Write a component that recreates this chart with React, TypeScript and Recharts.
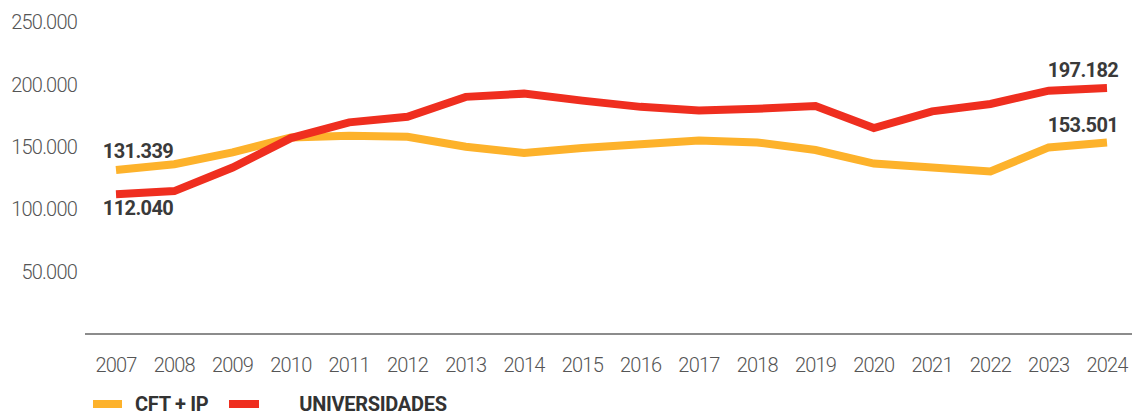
import React from "react";
import {
  LineChart,
  Line,
  XAxis,
  YAxis,
  Legend,
  LabelList,
} from "recharts";

const years = [
  "2007", "2008", "2009", "2010", "2011", "2012", "2013", "2014", "2015",
  "2016", "2017", "2018", "2019", "2020", "2021", "2022", "2023", "2024",
];

const cftIp = [
  131339, 136000, 145500, 157500, 158900, 158000, 150000, 145000, 149000,
  152000, 155000, 153500, 147400, 136600, 133400, 130200, 149500, 153501,
];

const universidades = [
  112040, 114500, 133400, 157000, 169600, 174000, 190000, 192600, 187000,
  182000, 179000, 180500, 182700, 165000, 178400, 184300, 195000, 197182,
];

const yTicks = [50000, 100000, 150000, 200000, 250000];

const YELLOW = "#FDB22B";
const RED = "#EF2E1F";
const FONT = "Roboto, 'Noto Sans', sans-serif";

const data = years.map((year, i) => ({
  year,
  cft: cftIp[i],
  uni: universidades[i],
}));

const fmt = (v: number) =>
  v.toString().replace(/\B(?=(\d{3})+(?!\d))/g, ".");

// only first and last points get a value label
const makeLabel =
  (firstDy: number, lastDy: number) =>
  (props: any) => {
    const { x, y, value, index } = props;
    if (index !== 0 && index !== years.length - 1) return null;
    const first = index === 0;
    return (
      <text
        x={first ? x + 22 : x - 24}
        y={y + (first ? firstDy : lastDy)}
        textAnchor="middle"
        dominantBaseline="central"
        fill="#3a3a3a"
        fontFamily={FONT}
        fontWeight={700}
        fontSize={20}
        letterSpacing={-0.6}
      >
        {fmt(value)}
      </text>
    );
  };

const LegendContent = () => (
  <div
    style={{
      display: "flex",
      alignItems: "center",
      fontFamily: FONT,
      fontWeight: 700,
      fontSize: 20,
      letterSpacing: -0.3,
      color: "#333",
      height: 30,
      paddingTop: 9,
      boxSizing: "border-box",
    }}
  >
    <span style={{ marginLeft: 93, width: 29, height: 8, background: YELLOW }} />
    <span style={{ marginLeft: 13 }}>CFT + IP</span>
    <span style={{ marginLeft: 21, width: 30, height: 8, background: RED }} />
    <span style={{ marginLeft: 40 }}>UNIVERSIDADES</span>
  </div>
);

export default function App() {
  return (
    <div style={{ position: "absolute", left: 0, top: 0 }}>
      <LineChart
        width={1132}
        height={414}
        data={data}
        margin={{ top: 22, right: 0, bottom: 0, left: 0 }}
      >
        <XAxis
          dataKey="year"
          padding={{ left: 31, right: 25 }}
          height={50}
          tickLine={false}
          tickSize={0}
          tickMargin={24}
          axisLine={{ stroke: "#666", strokeWidth: 1.5 }}
          tick={{
            fill: "#555",
            fontSize: 20,
            fontFamily: FONT,
            fontWeight: 300,
            letterSpacing: -0.8,
          }}
          interval={0}
        />
        <YAxis
          domain={[0, 250000]}
          ticks={yTicks}
          width={85}
          axisLine={false}
          tickLine={false}
          tickSize={0}
          tickMargin={8}
          tickFormatter={fmt}
          tick={{
            fill: "#555",
            fontSize: 20,
            fontFamily: FONT,
            fontWeight: 300,
            letterSpacing: -0.8,
          }}
        />
        <Legend
          verticalAlign="bottom"
          height={30}
          content={() => <LegendContent />}
        />
        <Line
          dataKey="cft"
          name="CFT + IP"
          stroke={YELLOW}
          strokeWidth={8}
          dot={false}
          activeDot={false}
          type="linear"
          isAnimationActive={false}
        >
          <LabelList dataKey="cft" content={makeLabel(-19, -17)} />
        </Line>
        <Line
          dataKey="uni"
          name="UNIVERSIDADES"
          stroke={RED}
          strokeWidth={8}
          dot={false}
          activeDot={false}
          type="linear"
          isAnimationActive={false}
        >
          <LabelList dataKey="uni" content={makeLabel(14, -18)} />
        </Line>
      </LineChart>
    </div>
  );
}
